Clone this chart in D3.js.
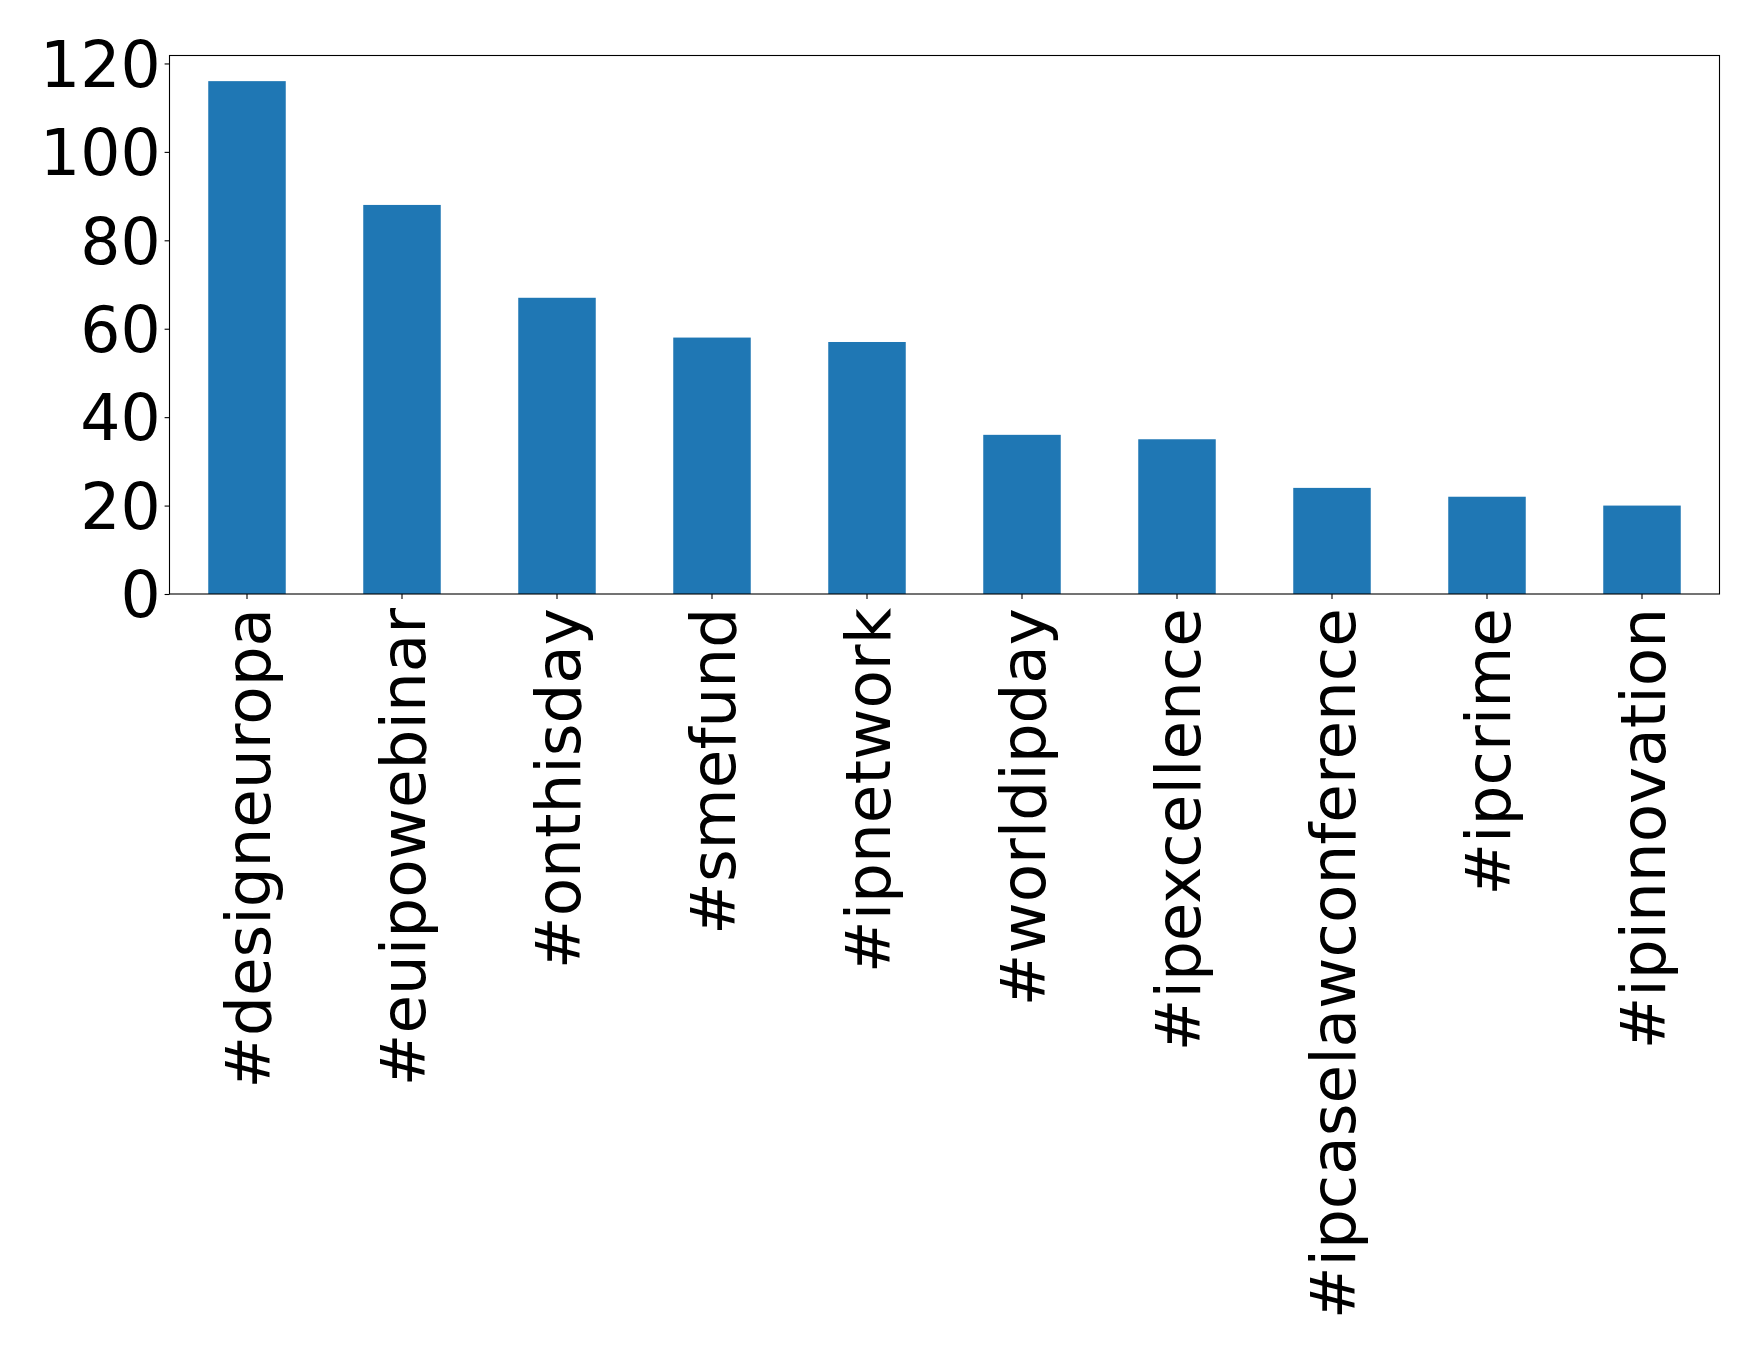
<!DOCTYPE html>
<html>
<head>
<meta charset="utf-8">
<script src="https://cdn.jsdelivr.net/npm/d3@7"></script>
<style>
  html, body { margin: 0; padding: 0; background: #fff; }
  svg { display: block; }
  text { font-family: "DejaVu Sans", sans-serif; fill: #000; }
</style>
</head>
<body>
<svg id="chart" width="1758" height="1352"></svg>
<script>
const categories = ["#designeuropa", "#euipowebinar", "#onthisday", "#smefund", "#ipnetwork",
                    "#worldipday", "#ipexcellence", "#ipcaselawconference", "#ipcrime", "#ipinnovation"];
const counts = [116, 88, 67, 58, 57, 36, 35, 24, 22, 20];
const yTicks = [0, 20, 40, 60, 80, 100, 120];

const plotLeft = 169.5, plotRight = 1719.5, plotTop = 55.5, plotBottom = 594;
const svg = d3.select("#chart");

const x = d3.scaleBand().domain(categories).range([plotLeft, plotRight]).paddingInner(0.5).paddingOuter(0.25);
const y = d3.scaleLinear().domain([0, d3.max(counts) * 1.05]).range([plotBottom, plotTop]);

svg.append("g").selectAll("rect").data(categories).join("rect")
  .attr("x", d => x(d))
  .attr("width", x.bandwidth())
  .attr("y", (d, i) => y(counts[i]))
  .attr("height", (d, i) => plotBottom - y(counts[i]))
  .attr("fill", "#1f77b4");

const yAxis = d3.axisLeft(y).tickValues(yTicks).tickSize(4.9).tickPadding(4).tickFormat(d3.format("d"));
const gy = svg.append("g").attr("transform", `translate(${plotLeft},0)`).call(yAxis);
gy.select(".domain").remove();
gy.selectAll(".tick line").attr("stroke", "#000").attr("stroke-width", 1.1);
gy.selectAll(".tick text").attr("font-size", 63.2).attr("font-family", "DejaVu Sans").attr("dy", "0.36em");

const xAxis = d3.axisBottom(x).tickSize(4.9).tickPadding(0);
const gx = svg.append("g").attr("transform", `translate(0,${plotBottom})`).call(xAxis);
gx.select(".domain").remove();
gx.selectAll(".tick line").attr("stroke", "#000").attr("stroke-width", 1.1);
gx.selectAll(".tick text")
  .attr("font-size", 62.8)
  .attr("font-family", "DejaVu Sans")
  .attr("transform", "rotate(-90)")
  .attr("text-anchor", "end")
  .attr("x", -14)
  .attr("y", 0)
  .attr("dy", "0.36em");

svg.append("rect")
  .attr("x", plotLeft).attr("y", plotTop)
  .attr("width", plotRight - plotLeft).attr("height", plotBottom - plotTop)
  .attr("fill", "none").attr("stroke", "#000").attr("stroke-width", 1.1);
</script>
</body>
</html>
